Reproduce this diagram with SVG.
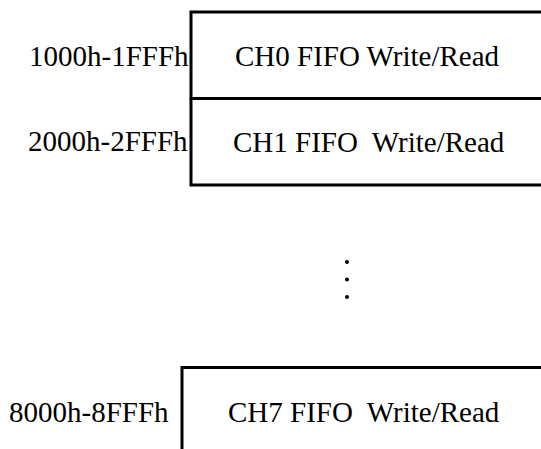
<svg xmlns="http://www.w3.org/2000/svg" width="541" height="449" viewBox="0 0 541 449">
<style>
.t{font-family:'Liberation Serif','Times New Roman',serif;font-size:29px;fill:#000}
.box{fill:none;stroke:#000;stroke-width:3}
</style>
<rect width="541" height="449" fill="#fff"/>
<g id="ch0">
<path class="box" d="M545 12 H191 V98.5 H545"/>
<text class="t" x="235" y="65.5" xml:space="preserve">CH0 FIFO Write/Read</text>
<text class="t" x="29" y="65.5">1000h-1FFFh</text>
</g>
<g id="ch1">
<path class="box" d="M191 98.5 V185 H545"/>
<text class="t" x="233" y="152" xml:space="preserve">CH1 FIFO  Write/Read</text>
<text class="t" x="28" y="151">2000h-2FFFh</text>
</g>
<g id="dots">
<circle cx="347" cy="262" r="2"/>
<circle cx="347" cy="279.5" r="2"/>
<circle cx="347" cy="297" r="2"/>
</g>
<g id="ch7">
<path class="box" d="M545 367.5 H182 V455"/>
<text class="t" x="228" y="422" xml:space="preserve">CH7 FIFO  Write/Read</text>
<text class="t" x="9" y="422">8000h-8FFFh</text>
</g>
<g id="connectors"/>
</svg>
